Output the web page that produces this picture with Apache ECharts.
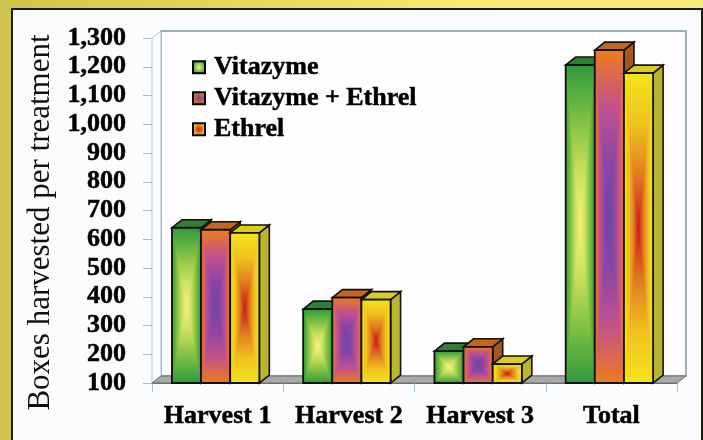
<!DOCTYPE html>
<html>
<head>
<meta charset="UTF-8">
<title>Boxes harvested per treatment</title>
<script type="text/javascript" src="https://cdn.jsdelivr.net/npm/echarts@6/dist/echarts.min.js"></script>
<style>
  html, body { margin: 0; padding: 0; }
  body {
    width: 703px; height: 440px; overflow: hidden; position: relative;
    background: linear-gradient(to right, #cfc54c 0%, #e4d95a 35%, #f4ea74 65%, #f6ec7a 100%);
  }
  #panel {
    position: absolute; left: 11px; top: 8px; width: 688px; height: 440px;
    border: 2px solid #1e1b0c; background: #fbfcfe;
  }
  #main { position: absolute; left: 0; top: 0; width: 703px; height: 440px; }
</style>
</head>
<body>
<div id="panel"></div>
<div id="main"></div>
<script type="text/javascript">
    // 数据
    var categories = ['Harvest 1', 'Harvest 2', 'Harvest 3', 'Total'];
    var vitazyme = [640, 357, 211, 1206];
    var vitEthrel = [633, 397, 226, 1258];
    var ethrel = [622, 390, 166, 1178];
    var yMin = 100, yMax = 1300, yStep = 100;

    // 3D 偏移
    var DX = 10, DY = -8;   // bars
    var FX = 9, FY = -7;    // walls / floor

    var serif = '"Liberation Serif", "DejaVu Serif", serif';

    // edge -> center colours of each bar face
    var looks = [
        { name: 'Vitazyme', stops: ['#2e9a3b', '#7cbf42', '#c9df5c', '#f3f27e'], top: '#2f7f33', side: '#26702b' },
        { name: 'Vitazyme + Ethrel', stops: ['#ec7d1d', '#c4528a', '#8c45a6', '#6a48a2'], top: '#c4641e', side: '#a6561f' },
        { name: 'Ethrel', stops: ['#f4e41c', '#f0c21f', '#e27a1f', '#c81a1a'], top: '#d6cf1e', side: '#b7b62c' }
    ];

    function mirrorStops(stops) {
        var n = stops.length - 1, out = [];
        for (var i = 0; i <= n; i++) out.push({ offset: 0.5 * i / n, color: stops[i] });
        for (var j = n - 1; j >= 0; j--) out.push({ offset: 1 - 0.5 * j / n, color: stops[j] });
        return out;
    }

    function barRender(si) {
        var lk = looks[si];
        var cs = mirrorStops(lk.stops);
        return function (params, api) {
            var cat = api.value(0), val = api.value(1);
            var top = api.coord([cat, val]);
            var base = api.coord([cat, yMin]);
            var band = api.size([1, 0])[0];
            var w = band * 0.222;
            var x0 = top[0] - 1.5 * w - 2 + si * w;
            var y0 = top[1], h = base[1] - top[1];
            var xc = x0 + w / 2, yc = y0 + h / 2;
            var hGrad = { type: 'linear', x: x0, y: 0, x2: x0 + w, y2: 0, global: true, colorStops: cs };
            var vGrad = { type: 'linear', x: 0, y: y0, x2: 0, y2: y0 + h, global: true, colorStops: cs };
            var edge = { stroke: '#111', lineWidth: 1.8, fill: null };
            return {
                type: 'group',
                children: [
                    { type: 'polygon', shape: { points: [[x0 + w, y0], [x0 + w + DX, y0 + DY], [x0 + w + DX, y0 + h + DY], [x0 + w, y0 + h]] },
                      style: { fill: lk.side, stroke: '#111', lineWidth: 1.6 } },
                    { type: 'polygon', shape: { points: [[x0, y0], [x0 + w, y0], [x0 + w + DX, y0 + DY], [x0 + DX, y0 + DY]] },
                      style: { fill: lk.top, stroke: '#111', lineWidth: 1.6 } },
                    { type: 'rect', shape: { x: x0, y: y0, width: w, height: h }, style: { fill: hGrad } },
                    { type: 'polygon', shape: { points: [[x0, y0], [x0 + w, y0], [xc, yc]] }, style: { fill: vGrad } },
                    { type: 'polygon', shape: { points: [[x0, y0 + h], [x0 + w, y0 + h], [xc, yc]] }, style: { fill: vGrad } },
                    { type: 'rect', shape: { x: x0, y: y0, width: w, height: h }, style: edge }
                ]
            };
        };
    }

    function pairs(arr) {
        return arr.map(function (v, i) { return [i, v]; });
    }

    var myChart = echarts.init(document.getElementById('main'));

    var series = [{
        name: 'frame',
        type: 'custom',
        silent: true,
        data: [[0, yMin]],
        renderItem: function (params, api) {
            var c = params.coordSys;
            var L = c.x, T = c.y, R = c.x + c.width, B = c.y + c.height;
            return {
                type: 'group',
                children: [
                    { type: 'rect', shape: { x: L + FX, y: T + FY, width: c.width, height: c.height },
                      style: { fill: '#fdfdff', stroke: '#7f929e', lineWidth: 1.5 } },
                    { type: 'polygon', shape: { points: [[L, T], [L + FX, T + FY], [L + FX, B + FY], [L, B]] },
                      style: { fill: '#fbfcfe', stroke: '#a9c6d6', lineWidth: 1 } },
                    { type: 'polygon', shape: { points: [[L, B], [R, B], [R + FX, B + FY], [L + FX, B + FY]] },
                      style: { fill: '#a9a9a9', stroke: '#6f6f6f', lineWidth: 1 } }
                ]
            };
        }
    }];

    [vitazyme, vitEthrel, ethrel].forEach(function (arr, si) {
        var lk = looks[si];
        series.push({
            name: lk.name,
            type: 'custom',
            data: pairs(arr),
            encode: { x: 0, y: 1 },
            itemStyle: {
                color: { type: 'radial', x: 0.5, y: 0.5, r: 0.5,
                         colorStops: [{ offset: 0, color: lk.stops[3] }, { offset: 1, color: lk.stops[0] }] }
            },
            renderItem: barRender(si)
        });
    });

    var option = {
        animation: false,
        grid: { left: 152, right: 26, top: 38, bottom: 57 },
        legend: {
            data: looks.map(function (l) { return l.name; }),
            orient: 'vertical',
            left: 192,
            top: 54,
            padding: 0,
            icon: 'rect',
            itemWidth: 12,
            itemHeight: 12,
            itemGap: 4.5,
            itemStyle: { borderColor: '#000', borderWidth: 2 },
            textStyle: {
                fontFamily: serif, fontWeight: 'bold', fontSize: 26, color: '#000',
                lineHeight: 26, padding: [0, 0, 0, 4],
                textBorderColor: '#000', textBorderWidth: 0.5
            }
        },
        xAxis: {
            type: 'category',
            data: categories,
            axisLine: { show: true, lineStyle: { color: '#6f6f6f', width: 1 } },
            axisTick: { show: true, length: 9, lineStyle: { color: '#9fc0d2' } },
            axisLabel: {
                interval: 0, margin: 20, fontFamily: serif, fontWeight: 'bold', fontSize: 26, color: '#000',
                textBorderColor: '#000', textBorderWidth: 0.5
            }
        },
        yAxis: {
            type: 'value',
            min: yMin,
            max: yMax,
            interval: yStep,
            name: 'Boxes harvested per treatment',
            nameLocation: 'middle',
            nameGap: 96,
            nameMoveOverlap: false,
            nameTextStyle: { fontFamily: serif, fontSize: 31, color: '#111', padding: [0, 24, 0, 0] },
            axisLine: { show: true, lineStyle: { color: '#9fc0d2', width: 1 } },
            axisTick: { show: true, length: 9, lineStyle: { color: '#9fc0d2' } },
            splitLine: { show: false },
            axisLabel: {
                margin: 26, fontFamily: serif, fontWeight: 'bold', fontSize: 26, color: '#000',
                textBorderColor: '#000', textBorderWidth: 0.5
            }
        },
        series: series
    };

    myChart.setOption(option);
</script>
</body>
</html>
